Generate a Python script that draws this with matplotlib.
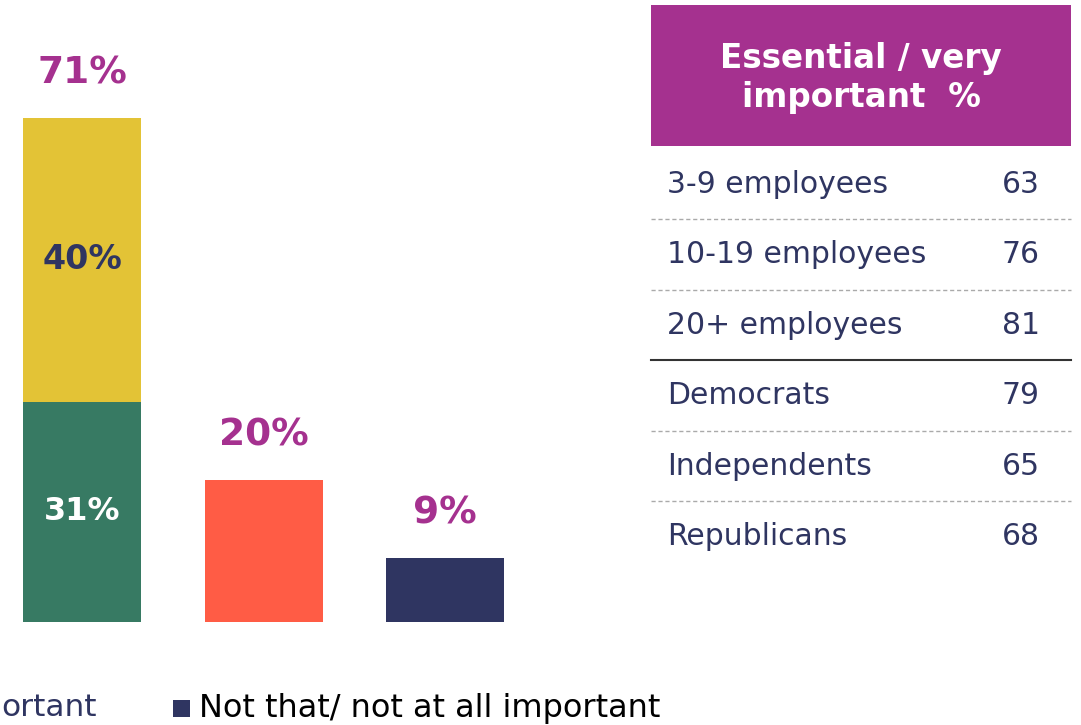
import matplotlib
matplotlib.use('Agg')
import matplotlib.pyplot as plt
from matplotlib.patches import Rectangle

# Overall importance split (percent)
bar_bottom = [31, 20, 9]
bar_top = [40, 0, 0]
bar_totals = [71, 20, 9]
bottom_colors = ['#377A63', '#FF5C45', '#2F3561']
top_color = '#E3C336'

# Essential / very important by subgroup
groups = ['3-9 employees', '10-19 employees', '20+ employees',
          'Democrats', 'Independents', 'Republicans']
group_values = [63, 76, 81, 79, 65, 68]
header_text = 'Essential / very\nimportant  %'

# the legend row only shows the tail of its second-last entry
legend_labels = ['ortant', 'Not that/ not at all important']

W, H = 1081, 725
purple = '#A5318F'
navy = '#2F3561'

fig = plt.figure(figsize=(W / 100, H / 100), dpi=100)

# --- bar chart on the left ---
ax = fig.add_axes([0, 103 / H, 540 / W, 622 / H])
ax.set_xlim(-0.452, 2.523)
ax.set_ylim(0, 87.6)
ax.axis('off')

xs = range(len(bar_bottom))
ax.bar(xs, bar_bottom, width=0.65, color=bottom_colors)
ax.bar(xs, bar_top, width=0.65, bottom=bar_bottom, color=top_color)

for x, tot in zip(xs, bar_totals):
    ax.annotate('{}%'.format(tot), (x, tot), xytext=(0, 32),
                textcoords='offset points', ha='center', va='center',
                fontsize=27, fontweight='heavy', color=purple)

# segment labels inside the stacked bar
ax.text(0, bar_bottom[0] / 2, '{}%'.format(bar_bottom[0]), ha='center',
        va='center', fontsize=23, fontweight='heavy', color='white')
ax.text(0, bar_bottom[0] + bar_top[0] / 2, '{}%'.format(bar_top[0]),
        ha='center', va='center', fontsize=24, fontweight='heavy', color=navy)

# --- table and legend in pixel coordinates ---
ov = fig.add_axes([0, 0, 1, 1])
ov.set_xlim(0, W)
ov.set_ylim(H, 0)
ov.axis('off')

ov.add_patch(Rectangle((651, 5), 420, 141, color=purple, lw=0))
ov.text(861, 78, header_text, ha='center', va='center', fontsize=23.5,
        fontweight='bold', color='white', linespacing=1.2)

row_h = 70.5
first_row = 184
for i, (g, v) in enumerate(zip(groups, group_values)):
    y = first_row + i * row_h
    ov.text(667, y, g, ha='left', va='center', fontsize=21.5, color=navy)
    ov.text(1021, y, str(v), ha='center', va='center', fontsize=21.5,
            color=navy)
    if i < len(groups) - 1:
        ly = y + row_h / 2
        if i == 2:
            ov.plot([651, 1071], [ly, ly], color='#333333', lw=1.5)
        else:
            ov.plot([651, 1071], [ly, ly], color='#AAAAAA', lw=1,
                    linestyle=(0, (3, 2)))

# legend row
ov.text(1, 708, legend_labels[0], ha='left', va='center', fontsize=22.5,
        color=navy)
ov.add_patch(Rectangle((173, 700), 17, 17, color=navy, lw=0))
ov.text(199, 708, legend_labels[1], ha='left', va='center', fontsize=23,
        color='black')

fig.savefig('out.png', dpi=100)
